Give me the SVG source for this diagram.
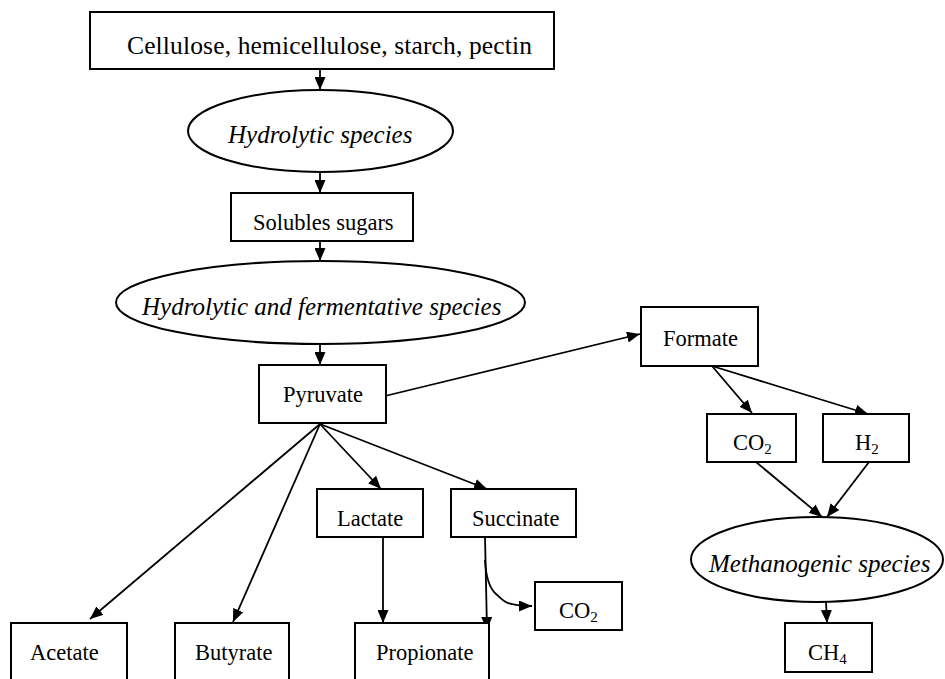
<svg xmlns="http://www.w3.org/2000/svg" width="945" height="679" viewBox="0 0 945 679">
<defs>
<marker id="ah" markerUnits="userSpaceOnUse" markerWidth="13" markerHeight="11" refX="13" refY="5.5" orient="auto">
<path d="M0,0 L13,5.5 L0,11 z" fill="#000"/>
</marker>
<style>
.box{fill:#fff;stroke:#000;stroke-width:2}
.ell{fill:#fff;stroke:#000;stroke-width:2}
.t{font-family:"Liberation Serif","Times New Roman",serif;font-size:22.5px;fill:#000}
.big{font-size:25.5px}
.it{font-family:"Liberation Serif","Times New Roman",serif;font-size:25px;font-style:italic;fill:#000}
.sub{font-size:15px}
.c{fill:none;stroke:#000;stroke-width:1.8;marker-end:url(#ah)}
</style>
</defs>
<rect width="945" height="679" fill="#fff"/>
<g id="connectors">
<line class="c" x1="320" y1="69" x2="320" y2="90"/>
<line class="c" x1="320" y1="172" x2="320" y2="193"/>
<line class="c" x1="320" y1="241" x2="320" y2="261"/>
<line class="c" x1="320" y1="344" x2="320" y2="365"/>
<line class="c" x1="385" y1="396" x2="640" y2="334"/>
<line class="c" x1="320" y1="424" x2="90" y2="619"/>
<line class="c" x1="320" y1="424" x2="233" y2="622"/>
<line class="c" x1="320" y1="424" x2="381" y2="489"/>
<line class="c" x1="320" y1="424" x2="487" y2="489"/>
<line class="c" x1="383" y1="537" x2="383" y2="623"/>
<line class="c" x1="485" y1="537" x2="487" y2="630"/>
<path class="c" d="M485,560 C486,578 489,588 496,594 C503,600 505,603 512,604 C519,606 522,606 532,606"/>
<line class="c" x1="712" y1="366" x2="752" y2="413"/>
<line class="c" x1="712" y1="366" x2="868" y2="414"/>
<line class="c" x1="756" y1="462" x2="822" y2="517"/>
<line class="c" x1="869" y1="462" x2="827" y2="517"/>
<line class="c" x1="826" y1="602" x2="827" y2="623"/>
</g>
<g id="polysaccharides">
<rect class="box" x="90" y="12" width="464" height="57"/>
<text class="t big" x="127" y="54" textLength="405">Cellulose, hemicellulose, starch, pectin</text>
</g>
<g id="hydrolytic">
<ellipse class="ell" cx="320.5" cy="131" rx="132.5" ry="41"/>
<text class="it" x="228" y="143">Hydrolytic species</text>
</g>
<g id="sugars">
<rect class="box" x="231" y="193" width="182" height="48"/>
<text class="t" x="253" y="230">Solubles sugars</text>
</g>
<g id="fermentative">
<ellipse class="ell" cx="320.5" cy="302.5" rx="204.5" ry="41.5"/>
<text class="it" x="142" y="315">Hydrolytic and fermentative species</text>
</g>
<g id="pyruvate">
<rect class="box" x="259" y="365" width="127" height="58"/>
<text class="t" x="283" y="402">Pyruvate</text>
</g>
<g id="formate">
<rect class="box" x="641" y="307" width="117" height="59"/>
<text class="t" x="663" y="346">Formate</text>
</g>
<g id="co2a">
<rect class="box" x="707" y="414" width="89" height="48"/>
<text class="t" x="733" y="450">CO<tspan class="sub" dy="4">2</tspan></text>
</g>
<g id="h2">
<rect class="box" x="823" y="414" width="86" height="48"/>
<text class="t" x="855" y="450">H<tspan class="sub" dy="4">2</tspan></text>
</g>
<g id="methanogenic">
<ellipse class="ell" cx="817" cy="559.5" rx="126" ry="42.5"/>
<text class="it" x="709" y="572">Methanogenic species</text>
</g>
<g id="ch4">
<rect class="box" x="785" y="623" width="87" height="49"/>
<text class="t" x="808" y="660">CH<tspan class="sub" dy="4">4</tspan></text>
</g>
<g id="lactate">
<rect class="box" x="317" y="489" width="106" height="48"/>
<text class="t" x="337" y="526">Lactate</text>
</g>
<g id="succinate">
<rect class="box" x="451" y="489" width="125" height="48"/>
<text class="t" x="472" y="526">Succinate</text>
</g>
<g id="co2b">
<rect class="box" x="535" y="582" width="87" height="48"/>
<text class="t" x="559" y="618">CO<tspan class="sub" dy="4">2</tspan></text>
</g>
<g id="acetate">
<rect class="box" x="11" y="623" width="116" height="70"/>
<text class="t" x="30" y="660">Acetate</text>
</g>
<g id="butyrate">
<rect class="box" x="175" y="623" width="114" height="70"/>
<text class="t" x="195" y="660">Butyrate</text>
</g>
<g id="propionate">
<rect class="box" x="355" y="623" width="134" height="70"/>
<text class="t" x="376" y="660">Propionate</text>
</g>
</svg>
